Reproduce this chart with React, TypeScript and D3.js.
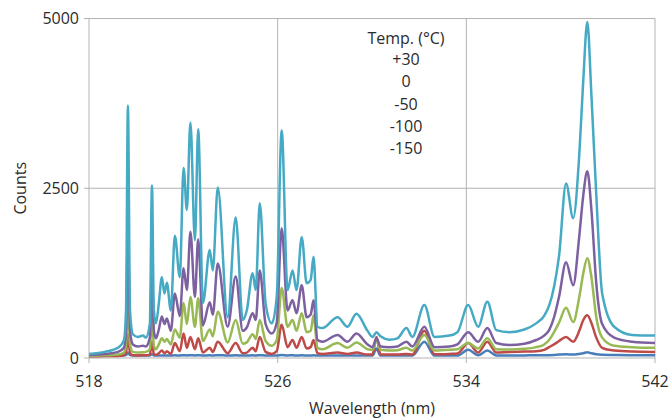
import React from "react";
import * as d3 from "d3";

const WIDTH = 670;
const HEIGHT = 418;

// x-axis / y-axis ticks
const xTicks = [518, 526, 534, 542];
const yTicks = [0, 2500, 5000];
const legendTitle = "Temp. (°C)";
const temps = ["+30", "0", "-50", "-100", "-150"];

// wavelength samples (nm)
const wavelength = [
  518.0, 518.68, 519.23, 519.48, 519.57, 519.65, 519.74, 519.86, 520.07, 520.29,
  520.41, 520.58, 520.67, 520.75, 520.84, 520.96, 521.09, 521.2, 521.3, 521.47,
  521.64, 521.85, 522.01, 522.15, 522.3, 522.49, 522.63, 522.83, 523.12, 523.25,
  523.46, 523.88, 524.22, 524.52, 524.69, 524.94, 525.07, 525.24, 525.49, 525.75,
  525.96, 526.17, 526.42, 526.63, 526.8, 527.02, 527.23, 527.4, 527.52, 527.69,
  527.9, 528.54, 528.96, 529.34, 529.81, 530.02, 530.19, 530.36, 530.74, 531.08,
  531.46, 531.71, 532.22, 532.65, 533.28, 533.62, 534.08, 534.5, 534.89, 535.27,
  535.82, 536.46, 536.96, 537.3, 537.51, 537.72, 537.93, 538.23, 538.53, 538.79,
  538.96, 539.13, 539.3, 539.51, 539.76, 540.27, 541.03, 542.0,
];

// counts per temperature series (same sample positions as wavelength)
const countsPlus30 = [
  30, 32, 35, 38, 45, 80, 45, 38, 36, 35,
  35, 36, 60, 38, 36, 36, 38, 36, 38, 36,
  40, 36, 42, 38, 42, 38, 42, 36, 40, 36,
  42, 36, 40, 36, 36, 40, 36, 42, 36, 35,
  36, 45, 38, 40, 36, 40, 36, 36, 40, 36,
  35, 38, 35, 38, 35, 35, 140, 36, 35, 35,
  38, 35, 240, 36, 35, 36, 120, 40, 110, 38,
  36, 38, 40, 40, 42, 45, 50, 55, 50, 60,
  70, 85, 70, 55, 48, 45, 42, 42,
];
const countsZero = [
  25, 28, 30, 40, 80, 350, 70, 40, 38, 40,
  40, 50, 240, 60, 45, 70, 110, 70, 100, 60,
  220, 100, 360, 150, 310, 130, 290, 80, 150, 90,
  240, 70, 220, 70, 80, 150, 100, 310, 90, 60,
  100, 490, 160, 265, 150, 310, 140, 160, 265, 70,
  60, 80, 60, 80, 50, 50, 310, 50, 50, 50,
  60, 50, 400, 55, 60, 65, 220, 80, 240, 80,
  90, 95, 100, 120, 160, 200, 250, 310, 240, 400,
  560, 630, 520, 300, 150, 110, 95, 90,
];
const countsMinus50 = [
  30, 40, 50, 80, 200, 900, 200, 90, 80, 85,
  90, 130, 660, 180, 130, 200, 290, 240, 280, 200,
  420, 300, 810, 500, 900, 460, 880, 250, 420, 320,
  680, 230, 560, 210, 230, 350, 280, 560, 250, 180,
  260, 1030, 460, 560, 400, 660, 380, 400, 630, 150,
  130, 220, 150, 230, 130, 120, 265, 120, 110, 115,
  150, 110, 340, 110, 120, 130, 220, 140, 290, 130,
  125, 135, 160, 200, 265, 380, 520, 740, 530, 900,
  1250, 1470, 1200, 600, 300, 180, 160, 150,
];
const countsMinus100 = [
  45, 60, 90, 150, 400, 1930, 400, 200, 170, 180,
  170, 300, 1340, 400, 290, 420, 610, 500, 580, 400,
  950, 620, 1320, 1000, 1860, 900, 1750, 480, 820, 640,
  1390, 460, 1200, 400, 450, 660, 560, 1290, 500, 360,
  520, 1910, 700, 850, 660, 1070, 600, 640, 850, 265,
  240, 340, 240, 360, 200, 160, 290, 170, 160, 170,
  240, 170, 460, 160, 170, 200, 380, 240, 440, 220,
  190, 210, 265, 330, 410, 600, 900, 1410, 1070, 1800,
  2400, 2750, 2200, 1100, 500, 300, 240, 220,
];
const countsMinus150 = [
  60, 90, 150, 260, 700, 3720, 700, 350, 310, 330,
  300, 500, 2540, 700, 510, 800, 1190, 950, 1110, 700,
  1800, 1190, 2800, 2180, 3470, 1735, 3370, 810, 1590, 1290,
  2510, 600, 2070, 560, 700, 1250, 1000, 2280, 800, 510,
  900, 3350, 1000, 1290, 1000, 1780, 1100, 1150, 1490, 460,
  440, 600, 460, 650, 400, 310, 380, 320, 270, 290,
  440, 310, 780, 310, 330, 380, 780, 460, 830, 410,
  380, 420, 510, 620, 770, 1050, 1500, 2570, 2060, 3000,
  4100, 4950, 3900, 2400, 950, 460, 340, 330,
];

const seriesCounts = [countsPlus30, countsZero, countsMinus50, countsMinus100, countsMinus150];
const seriesColors = ["#4A7EBB", "#BE4B48", "#98B954", "#7D60A0", "#46AAC5"];

const FONT = "'Open Sans', sans-serif";
const FS = 16;

export default function App() {
  const left = 89;
  const right = 655;
  const top = 18.5;
  const bottom = 358;

  const x = d3.scaleLinear().domain([518, 542]).range([left, right]);
  const y = d3.scaleLinear().domain([0, 5000]).range([bottom, top]);

  const line = d3
    .line<[number, number]>()
    .x((d) => x(d[0]))
    .y((d) => y(d[1]))
    .curve(d3.curveMonotoneX);

  const gridColor = "#b3b3b3";
  const textColor = "#2b2b2b";

  return (
    <svg
      width={WIDTH}
      height={HEIGHT}
      style={{ position: "absolute", left: 0, top: 0, background: "#fff" }}
    >
      <defs>
        <clipPath id="plotclip">
          <rect x={left} y={0} width={right - left} height={bottom} />
        </clipPath>
      </defs>
      {/* horizontal gridlines */}
      {yTicks.map((t) => (
        <line key={"hy" + t} x1={left} x2={right} y1={y(t)} y2={y(t)} stroke={gridColor} strokeWidth={1} />
      ))}
      {/* vertical gridlines */}
      {xTicks.map((t) => (
        <line key={"vx" + t} x1={x(t)} x2={x(t)} y1={top} y2={bottom} stroke={gridColor} strokeWidth={1} />
      ))}
      {/* tick marks */}
      {yTicks.map((t) => (
        <line key={"ty" + t} x1={left - 5} x2={left} y1={y(t)} y2={y(t)} stroke={gridColor} strokeWidth={1} />
      ))}
      {xTicks.map((t) => (
        <line key={"tx" + t} x1={x(t)} x2={x(t)} y1={bottom} y2={bottom + 5} stroke={gridColor} strokeWidth={1} />
      ))}

      {/* series */}
      <g clipPath="url(#plotclip)">
        {seriesCounts.map((counts, i) => (
          <path
            key={"s" + i}
            d={line(wavelength.map((w, j) => [w, counts[j]] as [number, number])) || ""}
            fill="none"
            stroke={seriesColors[i]}
            strokeWidth={2.5}
            strokeLinejoin="round"
          />
        ))}
      </g>

      {/* y tick labels */}
      {yTicks.map((t) => (
        <text
          key={"ly" + t}
          x={left - 10}
          y={y(t)}
          dy="0.35em"
          textAnchor="end"
          fontFamily={FONT}
          fontSize={FS}
          fill={textColor}
        >
          {t}
        </text>
      ))}
      {/* x tick labels */}
      {xTicks.map((t) => (
        <text
          key={"lx" + t}
          x={x(t)}
          y={387}
          textAnchor="middle"
          fontFamily={FONT}
          fontSize={FS}
          fill={textColor}
        >
          {t}
        </text>
      ))}

      {/* axis titles */}
      <text
        x={(left + right) / 2}
        y={414}
        textAnchor="middle"
        fontFamily={FONT}
        fontSize={FS}
        fill={textColor}
      >
        Wavelength (nm)
      </text>
      <text
        transform={`translate(26, ${y(2500)}) rotate(-90)`}
        textAnchor="middle"
        fontFamily={FONT}
        fontSize={FS}
        fill={textColor}
      >
        Counts
      </text>

      {/* legend */}
      <text x={406} y={44} textAnchor="middle" fontFamily={FONT} fontSize={FS} fill={textColor}>
        {legendTitle}
      </text>
      {temps.map((t, i) => (
        <text
          key={"lg" + t}
          x={406}
          y={65 + i * 22.3}
          textAnchor="middle"
          fontFamily={FONT}
          fontSize={FS}
          fill={textColor}
        >
          {t}
        </text>
      ))}
    </svg>
  );
}
